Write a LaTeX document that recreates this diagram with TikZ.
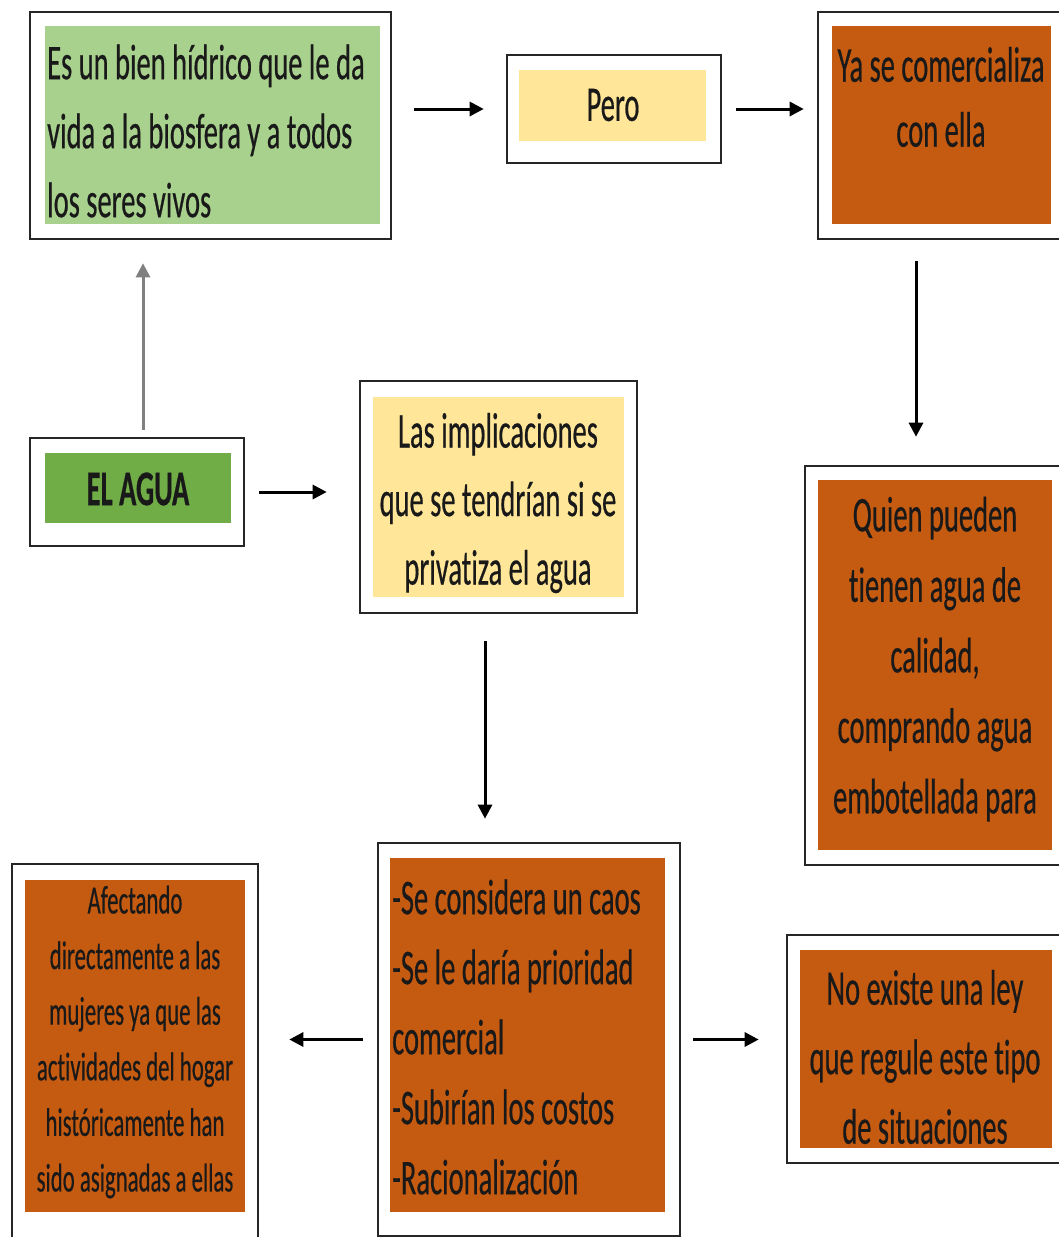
\documentclass[tikz,border=0pt]{standalone}
\usepackage{fontspec}
\setmainfont{Carlito}[FakeStretch=0.57, FakeBold=0.4, Ligatures=NoCommon, BoldFeatures={FakeBold=0.4}]
\usetikzlibrary{arrows.meta}
\definecolor{lgreen}{HTML}{A9D18E}
\definecolor{dgreen}{HTML}{70AD47}
\definecolor{lyellow}{HTML}{FFE699}
\definecolor{dorange}{HTML}{C55A11}
\tikzset{
  frame/.style={draw=black!85, line width=2.6pt, fill=white, inner sep=0pt},
  fillbox/.style={draw=none, inner sep=0pt},
  txt/.style={inner sep=0pt, text=black!90},
  arr/.style={line width=3pt, -{Triangle[length=14pt,width=14pt]}},
}
\begin{document}
\begin{tikzpicture}[x=1pt,y=-1pt]
\clip (0,0) rectangle (1059,1237);
\fill[white] (0,0) rectangle (1059,1237);
% frames
\node[frame, minimum width=361pt, minimum height=227pt] (A) at (210.5,125.5) {};
\node[frame, minimum width=214pt, minimum height=108pt] (B) at (614,109) {};
\node[frame, minimum width=257pt, minimum height=227pt] (C) at (946.5,125.5) {};
\node[frame, minimum width=214pt, minimum height=108pt] (D) at (137,492) {};
\node[frame, minimum width=277pt, minimum height=232pt] (E) at (498.5,497) {};
\node[frame, minimum width=270pt, minimum height=399pt] (F) at (940,665.5) {};
\node[frame, minimum width=302pt, minimum height=393pt] (G) at (529,1039.5) {};
\node[frame, minimum width=246pt, minimum height=396pt] (H) at (135,1062) {};
\node[frame, minimum width=288pt, minimum height=228pt] (I) at (931,1049) {};
% inner fills
\node[fillbox, fill=lgreen, minimum width=335pt, minimum height=198pt] (Af) at (212.5,125) {};
\node[fillbox, fill=lyellow, minimum width=187pt, minimum height=71pt] (Bf) at (612.5,105.5) {};
\node[fillbox, fill=dorange, minimum width=219pt, minimum height=198pt] (Cf) at (941.5,125) {};
\node[fillbox, fill=dgreen, minimum width=186pt, minimum height=70pt] (Df) at (138,488) {};
\node[fillbox, fill=lyellow, minimum width=251pt, minimum height=200pt] (Ef) at (498.5,497) {};
\node[fillbox, fill=dorange, minimum width=234pt, minimum height=370pt] (Ff) at (935,665) {};
\node[fillbox, fill=dorange, minimum width=275pt, minimum height=354pt] (Gf) at (527.5,1035) {};
\node[fillbox, fill=dorange, minimum width=220pt, minimum height=332pt] (Hf) at (135,1046) {};
\node[fillbox, fill=dorange, minimum width=252pt, minimum height=198pt] (If) at (926,1049) {};
% texts
\node[txt, align=left, anchor=west, font=\fontsize{50}{69}\selectfont] (At) at (47,131)
  {Es un bien hídrico que le da\\vida a la biosfera y a todos\\los seres vivos};
\node[txt, font=\fontsize{50}{60}\selectfont] (Bt) at (613,105) {Pero};
\node[txt, align=center, font=\fontsize{50}{65}\selectfont] (Ct) at (941,97)
  {Ya se comercializa\\con ella};
\node[txt, font=\bfseries\fontsize{50}{60}\selectfont] (Dt) at (138,489) {EL AGUA};
\node[txt, align=center, font=\fontsize{50}{68.5}\selectfont] (Et) at (498,503)
  {Las implicaciones\\que se tendrían si se\\privatiza el agua};
\node[txt, align=center, font=\fontsize{50}{70.5}\selectfont] (Ft) at (935,659)
  {Quien pueden\\tienen agua de\\calidad,\\comprando agua\\embotellada para};
\node[txt, align=left, anchor=west, font=\fontsize{50}{70}\selectfont] (Gt) at (392,1037)
  {-Se considera un caos\\-Se le daría prioridad\\comercial\\-Subirían los costos\\-Racionalización};
\node[txt, align=center, font=\fontsize{40}{55.6}\selectfont] (Ht) at (135,1042)
  {Afectando\\directamente a las\\mujeres ya que las\\actividades del hogar\\históricamente han\\sido asignadas a ellas};
\node[txt, align=center, font=\fontsize{50}{69.5}\selectfont] (It) at (925,1057)
  {No existe una ley\\que regule este tipo\\de situaciones};
% connectors
\draw[arr, shorten <=22pt, shorten >=22pt] (B.west -| A.east) -- (B.west);
\draw[arr, shorten <=14pt, shorten >=13pt] (B.east) -- (B.east -| C.west);
\draw[arr, shorten <=21pt, shorten >=28pt] ([xshift=-30.5pt]C.south) -- ([xshift=-30.5pt]C.south |- F.north);
\draw[arr, draw=gray, shorten <=7pt, shorten >=23pt] ([xshift=6pt]D.north) -- ([xshift=6pt]D.north |- A.south);
\draw[arr, shorten <=14pt, shorten >=32pt] (D.east) -- (D.east -| E.west);
\draw[arr, shorten <=27pt, shorten >=23pt] ([xshift=-13.5pt]E.south) -- ([xshift=-13.5pt]E.south |- G.north);
\draw[arr, shorten <=14pt, shorten >=30pt] (G.west) -- (G.west -| H.east);
\draw[arr, shorten <=12pt, shorten >=27pt] (G.east) -- (G.east -| I.west);
\end{tikzpicture}
\end{document}
